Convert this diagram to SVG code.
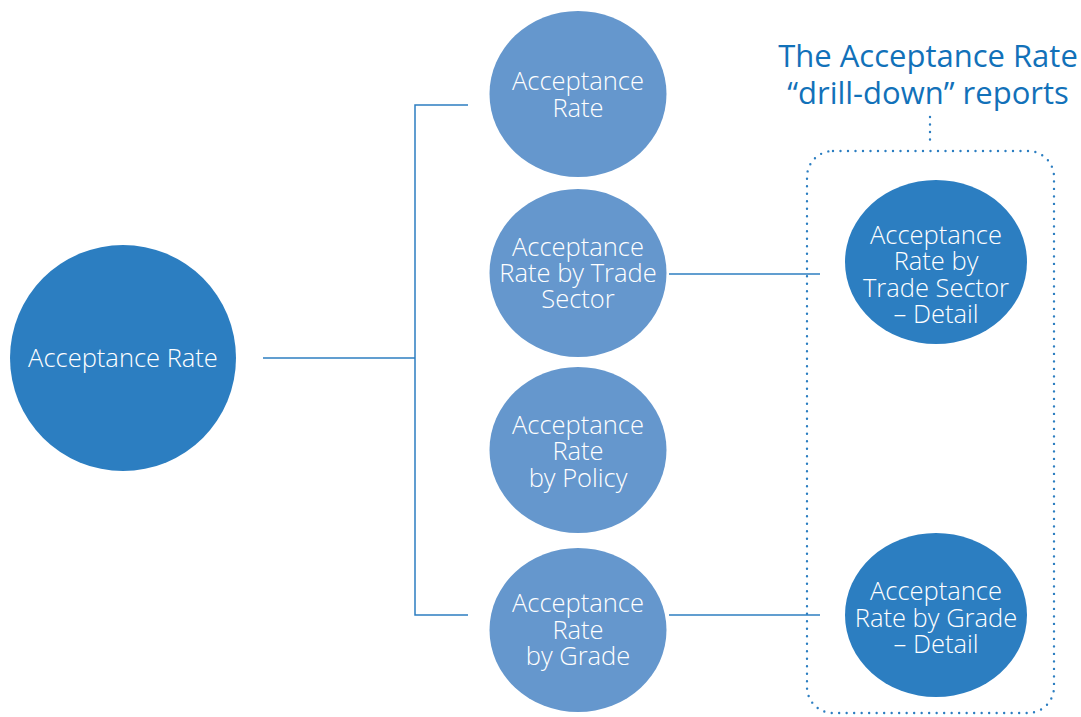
<svg xmlns="http://www.w3.org/2000/svg" width="1081" height="717" viewBox="0 0 1081 717">
<style>
.dark{fill:#2c7ec1}
.light{fill:#6597cd}
.lbl{font-family:"Open Sans",Lato,"Liberation Sans",sans-serif;font-weight:300;font-size:25.5px;fill:#ffffff;text-anchor:middle}
.title{font-family:"Open Sans",Lato,"Liberation Sans",sans-serif;font-weight:400;font-size:31px;fill:#1271b9;text-anchor:middle}
.conn{stroke:#2c7ec1;stroke-width:1.5;fill:none}
.dot{stroke:#2c7ec1;stroke-width:2.4;fill:none;stroke-dasharray:0 7.5;stroke-linecap:round}
</style>
<rect width="1081" height="717" fill="#ffffff"/>
<g id="connectors">
<polyline class="conn" points="263,358 415,358"/>
<polyline class="conn" points="468,105 415,105 415,615 468,615"/>
<line class="conn" x1="669" y1="274" x2="820" y2="274"/>
<line class="conn" x1="669" y1="615" x2="820" y2="615"/>
<line class="dot" x1="930" y1="117" x2="930" y2="145"/>
<rect class="dot" x="807" y="151" width="247" height="562" rx="26" ry="26"/>
</g>
<g id="title">
<text class="title" x="928" y="67">The Acceptance Rate<tspan x="928" dy="37">“drill-down” reports</tspan></text>
</g>
<g id="root">
<circle class="dark" cx="123" cy="358" r="113"/>
<text class="lbl" x="123" y="367">Acceptance Rate</text>
</g>
<g id="n1">
<ellipse class="light" cx="578" cy="94" rx="88.5" ry="83"/>
<text class="lbl" x="578" y="90">Acceptance<tspan x="578" dy="27">Rate</tspan></text>
</g>
<g id="n2">
<ellipse class="light" cx="578" cy="273" rx="88.5" ry="84"/>
<text class="lbl" x="578" y="256">Acceptance<tspan x="578" dy="26">Rate by Trade</tspan><tspan x="578" dy="26">Sector</tspan></text>
</g>
<g id="n3">
<ellipse class="light" cx="578" cy="450" rx="88.5" ry="83"/>
<text class="lbl" x="578" y="434">Acceptance<tspan x="578" dy="26">Rate</tspan><tspan x="578" dy="27">by Policy</tspan></text>
</g>
<g id="n4">
<ellipse class="light" cx="578" cy="630" rx="88.5" ry="82"/>
<text class="lbl" x="578" y="612">Acceptance<tspan x="578" dy="27">Rate</tspan><tspan x="578" dy="26">by Grade</tspan></text>
</g>
<g id="d1">
<ellipse class="dark" cx="936" cy="262" rx="91" ry="82"/>
<text class="lbl" x="936" y="244">Acceptance<tspan x="936" dy="26">Rate by</tspan><tspan x="936" dy="27">Trade Sector</tspan><tspan x="936" dy="26">– Detail</tspan></text>
</g>
<g id="d2">
<ellipse class="dark" cx="936" cy="615" rx="91" ry="82"/>
<text class="lbl" x="936" y="600">Acceptance<tspan x="936" dy="27">Rate by Grade</tspan><tspan x="936" dy="26">– Detail</tspan></text>
</g>
</svg>
